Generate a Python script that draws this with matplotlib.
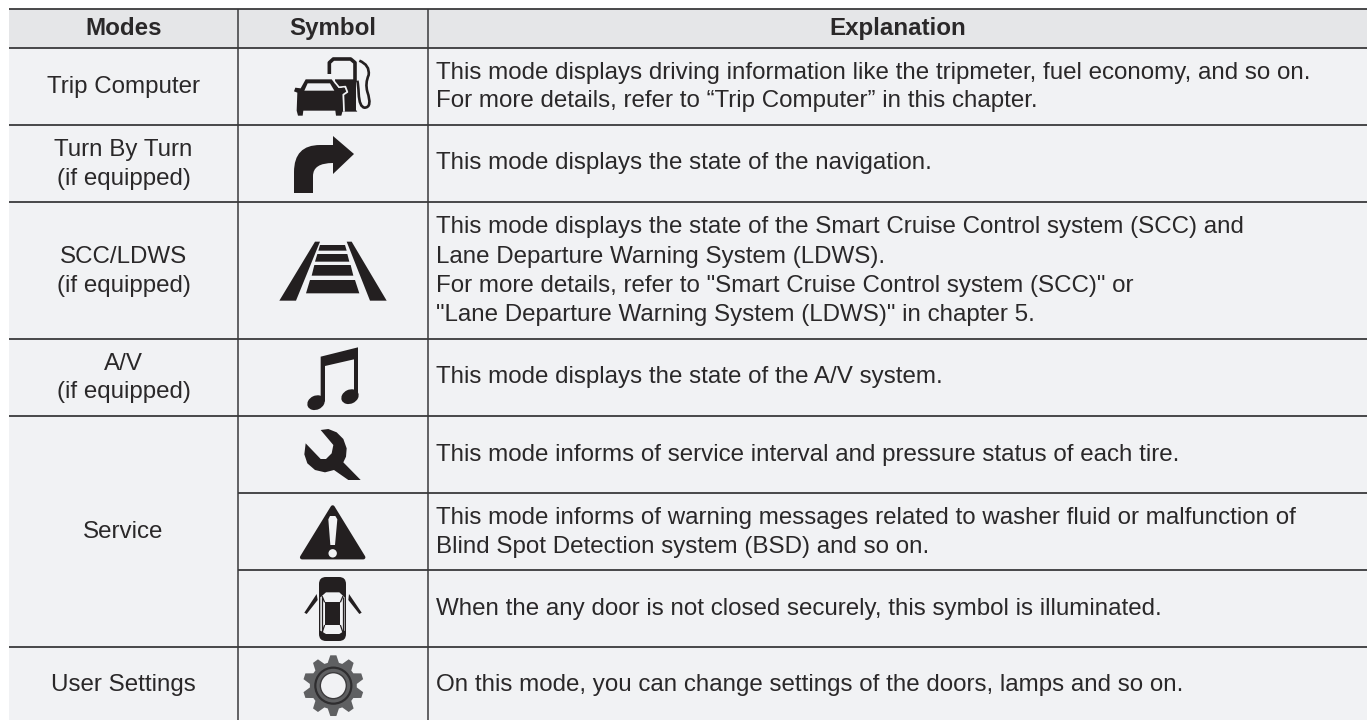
import numpy as np
import matplotlib
matplotlib.use('Agg')
import matplotlib.pyplot as plt
from matplotlib.patches import Polygon, Ellipse, Circle, FancyBboxPatch, PathPatch
from matplotlib.path import Path

plt.rcParams['font.family'] = ['Liberation Sans', 'DejaVu Sans']

INK = '#231f20'
TEXT = '#2a2829'
RULE = '#3a3a3c'
HEAD_BG = '#e5e6e8'
CELL_BG = '#f1f2f4'

W, H = 1367, 720
FS = 17.38

headers = ['Modes', 'Symbol', 'Explanation']
col_edges = [9, 238, 428, 1367]
row_edges = [9, 48, 125, 202, 339, 416, 493, 570, 647, 720]

# text lines with the pixel row of their baseline
modes = [
    ('Trip Computer', 92.7),
    ('Turn By Turn', 156.3),
    ('(if equipped)', 184.5),
    ('SCC/LDWS', 263),
    ('(if equipped)', 291.7),
    ('A/V', 370),
    ('(if equipped)', 398.3),
    ('Service', 538),
    ('User Settings', 691.5),
]
explanations = [
    ('This mode displays driving information like the tripmeter, fuel economy, and so on.', 79),
    ('For more details, refer to \u201cTrip Computer\u201d in this chapter.', 107.5),
    ('This mode displays the state of the navigation.', 169),
    ('This mode displays the state of the Smart Cruise Control system (SCC) and', 233.3),
    ('Lane Departure Warning System (LDWS).', 263),
    ('For more details, refer to "Smart Cruise Control system (SCC)" or', 292),
    ('"Lane Departure Warning System (LDWS)" in chapter 5.', 320.5),
    ('This mode displays the state of the A/V system.', 383),
    ('This mode informs of service interval and pressure status of each tire.', 461),
    ('This mode informs of warning messages related to washer fluid or malfunction of', 524),
    ('Blind Spot Detection system (BSD) and so on.', 553),
    ('When the any door is not closed securely, this symbol is illuminated.', 615),
    ('On this mode, you can change settings of the doors, lamps and so on.', 691.5),
]

fig = plt.figure(figsize=(W / 100, H / 100), dpi=100)
ax = fig.add_axes([0, 0, 1, 1])
ax.set_xlim(0, W)
ax.set_ylim(H, 0)
ax.axis('off')


def z(points, ox, oy):
    return [(ox + x / 3, oy + y / 3) for x, y in points]


def poly(points, ox, oy, color=INK, **kw):
    ax.add_patch(Polygon(z(points, ox, oy), closed=True, facecolor=color, edgecolor='none', **kw))


def stroke(points, ox, oy, lw, color=INK):
    xy = np.array(z(points, ox, oy))
    ax.plot(xy[:, 0], xy[:, 1], color=color, lw=lw, solid_capstyle='butt', solid_joinstyle='round')


# backgrounds
ax.fill_between([col_edges[0], W], row_edges[0], row_edges[1], color=HEAD_BG, lw=0)
ax.fill_between([col_edges[0], W], row_edges[1], H, color=CELL_BG, lw=0)

# rules
for y in row_edges[:-1]:
    left = col_edges[1] if y in (493, 570) else col_edges[0]
    ax.plot([left, W], [y, y], color=RULE, lw=1.3, solid_capstyle='butt')
for x in col_edges[1:3]:
    ax.plot([x, x], [row_edges[0], H], color=RULE, lw=1.1, solid_capstyle='butt')

# text
for i, h in enumerate(headers):
    ax.text((col_edges[i] + col_edges[i + 1]) / 2, 35, h, ha='center', va='baseline',
            fontsize=FS, fontweight='bold', color=TEXT)
for label, y in modes:
    ax.text(123.5, y, label, ha='center', va='baseline', fontsize=FS, color=TEXT)
for line, y in explanations:
    ax.text(436, y, line, ha='left', va='baseline', fontsize=FS, color=TEXT)

# --- icons ---
# car and pump
ox, oy = 270, 50
stroke([(178, 72), (178, 38), (190, 27), (242, 27), (255, 38), (255, 95)], ox, oy, 2.6)
poly([(195, 88), (258, 88), (258, 180), (262, 185), (200, 185)], ox, oy)
hose = z([(268, 32), (300, 45), (296, 75), (285, 100), (292, 125), (308, 172), (284, 173), (268, 172), (266, 130),
          (265, 105), (262, 92)], ox, oy)
hose_codes = [Path.MOVETO] + [Path.CURVE3] * 10
ax.add_patch(PathPatch(Path(hose, hose_codes), facecolor='none', edgecolor=INK, lw=1.9))
poly([(107, 88), (185, 88), (205, 115), (222, 113), (226, 124), (215, 128), (218, 182), (214, 197), (198, 197), (196, 182),
      (100, 182), (98, 197), (84, 197), (80, 182), (82, 128), (72, 124), (76, 113), (92, 115)],
     ox, oy, zorder=3)
stroke([(185, 85), (207, 112), (226, 110), (232, 126), (220, 134), (222, 185)], ox, oy, 1.3, CELL_BG)
poly([(113, 100), (180, 100), (193, 122), (103, 122)], ox, oy, CELL_BG, zorder=4)

# turn arrow
verts = [(294, 193), (313, 193), (313, 176), (313, 163), (333, 163), (333, 174), (354, 154), (333, 136), (333, 145),
         (320, 145), (294, 145), (294, 172), (294, 193)]
codes = [Path.MOVETO, Path.LINETO, Path.LINETO, Path.CURVE3, Path.CURVE3, Path.LINETO, Path.LINETO, Path.LINETO,
         Path.LINETO, Path.LINETO, Path.CURVE3, Path.CURVE3, Path.LINETO]
ax.add_patch(PathPatch(Path(verts, codes), facecolor=INK, edgecolor='none'))

# lane lines
ox, oy = 0, 240
poly([(838, 182), (888, 182), (960, 5), (945, 5)], ox, oy)
poly([(1110, 182), (1160, 182), (1055, 5), (1040, 5)], ox, oy)
poly([(960, 15), (1035, 15), (1040, 32), (955, 32)], ox, oy)
poly([(952, 42), (1042, 42), (1048, 65), (945, 65)], ox, oy)
poly([(943, 75), (1052, 75), (1060, 107), (935, 107)], ox, oy)
poly([(930, 120), (1065, 120), (1078, 160), (918, 160)], ox, oy)

# music note
poly([(962, 350), (1074, 322), (1074, 470), (1062, 470), (1062, 358), (975, 378), (975, 485), (962, 485)], ox, oy)
ax.add_patch(Ellipse((948 / 3, 240 + 488 / 3), 18, 14, angle=-25, facecolor=INK, edgecolor='none'))
ax.add_patch(Ellipse((1050 / 3, 240 + 470 / 3), 18, 14, angle=-25, facecolor=INK, edgecolor='none'))

# wrench
ox, oy = 290, 415
poly([(92, 45), (115, 42), (140, 52), (160, 72), (170, 100), (168, 125), (160, 142), (212, 195), (175, 195), (132, 165),
      (105, 172), (75, 165), (52, 145), (43, 118), (47, 85), (92, 132), (108, 132), (125, 115), (130, 90)], ox, oy)

# warning triangle
ox, oy = 0, 480
ax.add_patch(Polygon(z([(998, 82), (1090, 232), (906, 232)], ox, oy), closed=True, facecolor=INK, edgecolor=INK,
                     lw=3, joinstyle='round'))
poly([(985, 118), (990, 108), (1006, 108), (1012, 118), (1005, 195), (991, 195)], ox, oy, CELL_BG)
ax.add_patch(Circle((998 / 3, 480 + 220 / 3), 4.2, facecolor=CELL_BG, edgecolor='none'))

# car with open doors
ox, oy = 290, 570
ax.add_patch(FancyBboxPatch((319, 577), 27, 64, boxstyle='round,pad=0,rounding_size=7', facecolor=INK, edgecolor='none'))
poly([(91, 82), (108, 67), (148, 67), (164, 82), (164, 182), (148, 192), (108, 192), (91, 182)], ox, oy, CELL_BG)
poly([(104, 97), (151, 97), (151, 165), (104, 165)], ox, oy)
stroke([(96, 78), (104, 97)], ox, oy, 0.9)
stroke([(159, 78), (151, 97)], ox, oy, 0.9)
stroke([(96, 188), (104, 165)], ox, oy, 0.9)
stroke([(159, 188), (151, 165)], ox, oy, 0.9)
stroke([(97, 82), (97, 188)], ox, oy, 0.9)
stroke([(158, 82), (158, 188)], ox, oy, 0.9)
poly([(80, 72), (43, 128), (50, 132), (83, 90)], ox, oy)
poly([(177, 72), (215, 128), (208, 132), (175, 90)], ox, oy)

# gear
cx, cy = 290 + 130 / 3, 645 + 122 / 3
tooth_angles = np.deg2rad(90 + 36 * np.arange(10))
gear = []
for a in tooth_angles:
    for da, r in [(-0.24, 23.5), (-0.10, 30.5), (0.10, 30.5), (0.24, 23.5)]:
        gear.append((cx + r * np.cos(a + da), cy - r * np.sin(a + da)))
ax.add_patch(Polygon(gear, closed=True, facecolor='#5f6062', edgecolor='none'))
ax.add_patch(Circle((cx, cy), 18.0, facecolor='none', edgecolor='#2e2d2f', lw=1.6))
ax.add_patch(Circle((cx, cy), 13.0, facecolor=CELL_BG, edgecolor='#3c3b3d', lw=1.0))

fig.savefig('out.png', dpi=100, facecolor='white')
